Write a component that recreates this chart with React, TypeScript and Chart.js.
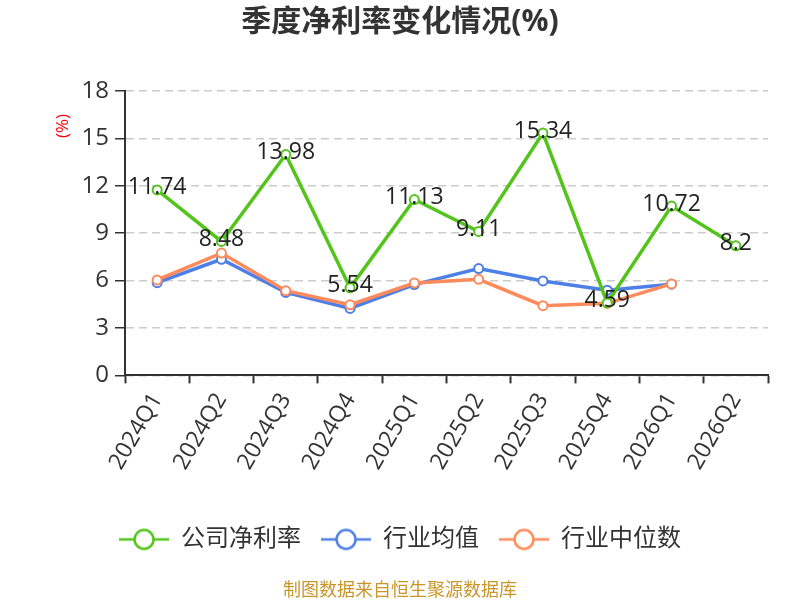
import { useEffect, useRef } from 'react';
import Chart from 'chart.js/auto';

const FONT = "'Open Sans', 'Noto Sans CJK SC', sans-serif";

const QUARTERS = ['2024Q1', '2024Q2', '2024Q3', '2024Q4', '2025Q1', '2025Q2', '2025Q3', '2025Q4', '2026Q1', '2026Q2'];
const NET_MARGIN = [11.74, 8.48, 13.98, 5.54, 11.13, 9.11, 15.34, 4.59, 10.72, 8.2];
const INDUSTRY_AVG = [5.87, 7.35, 5.25, 4.24, 5.75, 6.76, 5.98, 5.39, 5.77, null];
const INDUSTRY_MEDIAN = [6.04, 7.74, 5.36, 4.47, 5.85, 6.08, 4.41, 4.56, 5.79, null];
const SERIES_NAMES = ['公司净利率', '行业均值', '行业中位数'];
const Y_MIN = 0;
const Y_MAX = 18;
const Y_STEP = 3;

const GREEN = '#52C41A';
const BLUE = '#4E7FE6';
const ORANGE = '#FF8A5B';

// legend marker: short line with an open circle, like the original
function makeIcon(color: string) {
  const c = document.createElement('canvas');
  c.width = 50;
  c.height = 24;
  const g = c.getContext('2d')!;
  g.strokeStyle = color;
  g.lineWidth = 2.5;
  g.beginPath();
  g.moveTo(0, 12);
  g.lineTo(50, 12);
  g.stroke();
  g.beginPath();
  g.arc(25, 12, 9.5, 0, Math.PI * 2);
  g.fillStyle = '#fff';
  g.fill();
  g.stroke();
  return c;
}

const valueLabels = {
  id: 'valueLabels',
  afterDatasetsDraw(chart: any) {
    const meta = chart.getDatasetMeta(0);
    const ctx = chart.ctx;
    ctx.save();
    ctx.font = `23px ${FONT}`;
    ctx.fillStyle = '#222';
    ctx.textAlign = 'center';
    ctx.textBaseline = 'middle';
    meta.data.forEach((pt: any, i: number) => {
      ctx.fillText(String(NET_MARGIN[i]), pt.x, pt.y - 2);
    });
    ctx.restore();
  },
};

const unitLabel = {
  id: 'unitLabel',
  afterDraw(chart: any) {
    const ctx = chart.ctx;
    ctx.save();
    ctx.translate(63, chart.chartArea.top + 35);
    ctx.rotate(-Math.PI / 2);
    ctx.font = `17px ${FONT}`;
    ctx.fillStyle = '#FF0000';
    ctx.textAlign = 'center';
    ctx.textBaseline = 'middle';
    ctx.fillText('(%)', 0, 0);
    ctx.restore();
  },
};

export default function App() {
  const ref = useRef<HTMLCanvasElement>(null);
  useEffect(() => {
    if (!ref.current) return;
    const colors = [GREEN, BLUE, ORANGE];
    const icons = colors.map(makeIcon);
    const line = (label: string, data: (number | null)[], color: string, order: number) => ({
      label, data, order,
      borderColor: color, backgroundColor: '#fff',
      borderWidth: 3.5, pointRadius: 4.5, pointBorderWidth: 2,
      pointBackgroundColor: '#fff', pointBorderColor: color,
      tension: 0, spanGaps: false,
    });
    const c = new Chart(ref.current, {
      type: 'line',
      data: {
        labels: QUARTERS,
        datasets: [
          line(SERIES_NAMES[0], NET_MARGIN, GREEN, 0),
          line(SERIES_NAMES[1], INDUSTRY_AVG, BLUE, 2),
          line(SERIES_NAMES[2], INDUSTRY_MEDIAN, ORANGE, 1),
        ],
      },
      options: {
        responsive: false,
        animation: false,
        layout: { padding: 0 },
        scales: {
          x: {
            offset: true,
            grid: { offset: true, drawOnChartArea: false, tickLength: 8, tickWidth: 2, tickColor: '#333' },
            border: { color: '#333', width: 2 },
            ticks: { color: '#333', font: { size: 23, family: FONT }, minRotation: 60, maxRotation: 60, autoSkip: false, padding: 5 },
            afterFit: (s: any) => { s.height = 132; },
          },
          y: {
            min: Y_MIN, max: Y_MAX,
            grid: { color: '#cccccc', lineWidth: 1.5, tickLength: 10, tickColor: '#333', tickWidth: 1.5, tickBorderDash: [] },
            border: { color: '#333', width: 2, dash: [8, 5] },
            ticks: { stepSize: Y_STEP, color: '#333', font: { size: 24, family: FONT }, padding: 6 },
            afterFit: (s: any) => { s.width = 125; },
          },
          yPad: {
            position: 'right', display: true,
            grid: { display: false }, border: { display: false }, ticks: { display: false },
            afterFit: (s: any) => { s.width = 32; },
          },
        },
        plugins: {
          title: {
            display: true, text: '季度净利率变化情况(%)', color: '#333',
            font: { size: 30, weight: 'bold', family: FONT }, padding: { top: 4, bottom: 51 },
          },
          subtitle: {
            display: true, position: 'bottom', text: '制图数据来自恒生聚源数据库', color: '#C9962B',
            font: { size: 18, family: FONT }, padding: { top: 19, bottom: -2 },
          },
          legend: {
            position: 'bottom',
            labels: {
              usePointStyle: true, pointStyleWidth: 50, padding: 20, color: '#333',
              font: { size: 24, family: FONT },
              generateLabels: () => SERIES_NAMES.map((name, i) => ({
                text: name, pointStyle: icons[i], fillStyle: colors[i], strokeStyle: colors[i],
                lineWidth: 0, hidden: false, datasetIndex: i, fontColor: '#333',
              })),
            },
          },
          tooltip: { enabled: false },
        },
      },
      plugins: [valueLabels, unitLabel],
    } as any);
    return () => c.destroy();
  }, []);
  return (
    <div style={{ position: 'absolute', left: 0, top: 0, width: 800, height: 600, background: '#fff' }}>
      <canvas ref={ref} width={800} height={600} />
    </div>
  );
}
